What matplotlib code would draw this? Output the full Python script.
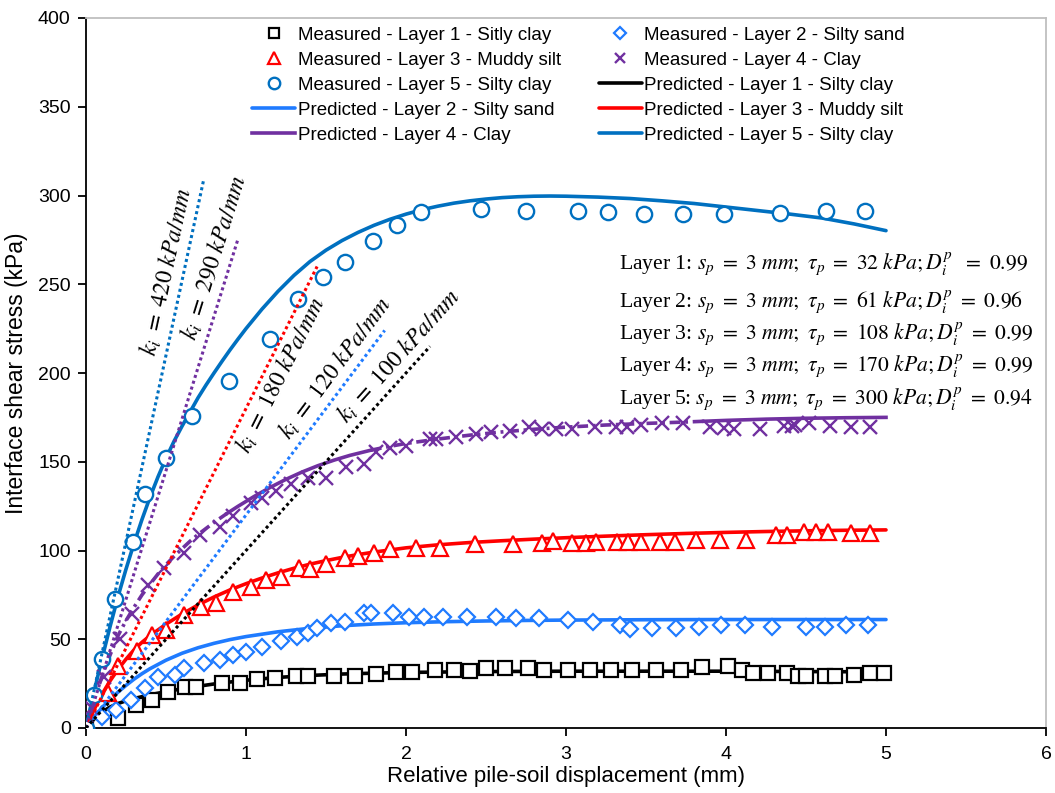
import numpy as np
import matplotlib
matplotlib.use("Agg")
import matplotlib.pyplot as plt
from matplotlib.lines import Line2D
from matplotlib import transforms

plt.rcParams['font.family'] = ['Liberation Sans', 'DejaVu Sans']
plt.rcParams['mathtext.fontset'] = 'stix'

# ---------------- measured interface shear stress ----------------
m1_x = [0, 0.2, 0.31, 0.41, 0.51, 0.62, 0.69, 0.85, 0.96, 1.07, 1.18, 1.31, 1.39, 1.55, 1.68,
        1.81, 1.94, 2.04, 2.18, 2.30, 2.40, 2.50, 2.62, 2.76, 2.86, 3.01, 3.15, 3.28, 3.41,
        3.56, 3.72, 3.85, 4.01, 4.10, 4.17, 4.26, 4.38, 4.45, 4.50, 4.62, 4.68, 4.80, 4.90, 4.99]
m1_y = [0, 5.4, 13, 15.8, 20.1, 22.9, 22.9, 25.5, 25.5, 27.6, 27.9, 29.3, 29.3, 29.3, 29.3,
        30.4, 31.7, 31.7, 32.7, 32.7, 32.1, 34.0, 34.0, 34.0, 32.7, 32.7, 32.7, 32.7, 32.7,
        32.7, 32.7, 34.1, 34.9, 32.7, 30.8, 31.2, 31.2, 29.5, 29.5, 29.5, 29.5, 29.9, 31.2, 31.2]

m2_x = [0, 0.1, 0.19, 0.28, 0.37, 0.45, 0.556, 0.61, 0.74, 0.84, 0.92, 1.0, 1.10, 1.22, 1.32,
        1.39, 1.445, 1.53, 1.62, 1.74, 1.78, 1.92, 2.02, 2.11, 2.23, 2.38, 2.56, 2.69, 2.83,
        3.01, 3.17, 3.34, 3.40, 3.54, 3.69, 3.83, 3.97, 4.12, 4.29, 4.5, 4.62, 4.75, 4.89]
m2_y = [0, 6, 10, 16, 22.5, 29, 30, 33.6, 36.4, 38.3, 41.1, 43, 45.8, 49, 51.5,
        53.7, 56.1, 58.9, 59.9, 64.6, 64.6, 64.6, 62.7, 62.7, 62.7, 62.7, 62.7, 61.8, 61.8,
        60.8, 59.9, 58, 55.6, 56.1, 56.1, 57, 58, 58, 57, 57, 57, 58, 58]

m3_x = [0, 0.14, 0.2, 0.32, 0.41, 0.5, 0.61, 0.72, 0.81, 0.92, 1.03, 1.125, 1.22, 1.33, 1.40,
        1.50, 1.62, 1.70, 1.80, 1.90, 2.06, 2.21, 2.43, 2.67, 2.85, 2.92, 3.04, 3.125, 3.19,
        3.32, 3.39, 3.47, 3.59, 3.68, 3.81, 3.96, 4.125, 4.31, 4.38, 4.49, 4.56, 4.64, 4.78, 4.90]
m3_y = [0, 19.9, 34.9, 43.6, 52.4, 55.2, 63.7, 68.3, 70.6, 76.8, 79.6, 83.4, 84.9, 90, 89.4,
        92.4, 95.6, 96.9, 98.4, 100.6, 101.2, 101.2, 103.7, 103.7, 104, 105.5, 104.4, 104, 104.8,
        104.8, 104.8, 104.8, 104.8, 104.8, 105.9, 105.9, 105.9, 108.7, 108.7, 110.7, 110.7, 110.7,
        109.7, 109.7]

m4_x = [0, 0.04, 0.11, 0.21, 0.29, 0.39, 0.49, 0.61, 0.71, 0.84, 0.92, 1.03, 1.10, 1.19, 1.28,
        1.39, 1.50, 1.625, 1.74, 1.81, 1.90, 2.0, 2.15, 2.19, 2.31, 2.44, 2.53, 2.65, 2.77,
        2.85, 2.94, 3.04, 3.18, 3.31, 3.38, 3.47, 3.6, 3.73, 3.9, 3.99, 4.05, 4.21, 4.36,
        4.41, 4.43, 4.52, 4.65, 4.78, 4.9]
m4_y = [0, 11, 28.5, 50, 64, 80.6, 90, 98.4, 108.7, 113.4, 119.4, 126.6, 129.8, 133.5, 137.3,
        140.7, 140.7, 147.2, 148.6, 155.7, 158, 158.9, 163, 163, 164.2, 165.6, 166.8, 167.5, 169.4,
        168.6, 168.6, 168.6, 169.4, 169.4, 169.7, 170.8, 171.6, 171.6, 169.7, 169.2, 168.5, 168.5,
        170.1, 170.1, 170.5, 172, 170.1, 169.7, 169.7]

m5_x = [0, 0.05, 0.1, 0.18, 0.296, 0.367, 0.5, 0.665, 0.894, 1.148, 1.325, 1.483, 1.621, 1.796,
        1.946, 2.092, 2.471, 2.75, 3.075, 3.26, 3.49, 3.73, 3.99, 4.34, 4.625, 4.87]
m5_y = [0, 18.6, 38.9, 72.7, 105, 131.8, 152, 175.6, 195.4, 219, 241.7, 254.3, 262.7, 274.2,
        283.2, 290.7, 292.2, 291.3, 291.1, 290.7, 289.6, 289.6, 289.6, 290, 291.1, 291.1]

# ---------------- predicted curves ----------------
p1_x = [0, 0.025, 0.05, 0.075, 0.1, 0.15, 0.2, 0.25, 0.3, 0.4, 0.5, 0.6, 0.7, 0.8, 0.9, 1.0,
        1.2, 1.4, 1.6, 1.8, 2.0, 2.5, 3.0, 3.5, 4.0, 4.5, 5.0]
p1_y = [0, 2.5, 5, 7.1, 9, 11.8, 13.8, 15.3, 16.6, 18.7, 20.5, 22.1, 23.5, 24.8, 25.9, 26.9,
        28.5, 29.6, 30.4, 30.9, 31.3, 31.8, 32, 32, 32, 31.8, 31.6]

p2_x = [0, 0.025, 0.05, 0.075, 0.1, 0.15, 0.2, 0.25, 0.3, 0.35, 0.4, 0.5, 0.6, 0.7, 0.8, 0.9,
        1.0, 1.2, 1.4, 1.6, 1.8, 2.0, 2.25, 2.5, 2.75, 3.0, 3.5, 4.0, 4.5, 5.0]
p2_y = [0, 3, 6, 8.8, 11.5, 16, 20.2, 24, 27.5, 30.6, 33.4, 38.2, 42.1, 45.2, 47.7, 49.8,
        51.5, 54.2, 56.2, 57.6, 58.6, 59.3, 59.9, 60.3, 60.6, 60.8, 61, 61.1, 61.1, 61.1]

p3_x = [0, 0.025, 0.05, 0.075, 0.1, 0.15, 0.2, 0.25, 0.3, 0.35, 0.4, 0.5, 0.6, 0.7, 0.8, 0.9,
        1.0, 1.1, 1.2, 1.3, 1.4, 1.5, 1.6, 1.7, 1.8, 2.0, 2.2, 2.4, 2.6, 2.8, 3.0, 3.25, 3.5,
        3.75, 4.0, 4.25, 4.5, 4.75, 5.0]
p3_y = [0, 5.2, 10.2, 14.8, 19, 26.5, 33, 38.8, 44, 48.3, 52, 58.5, 64.2, 69.3, 73.8, 77.8,
        81.3, 84.5, 87.4, 90, 92.3, 94.3, 96.1, 97.7, 99.1, 101.5, 103.2, 104.5, 105.5, 106.4,
        107.2, 108.1, 108.9, 109.6, 110.2, 110.7, 111.1, 111.4, 111.6]

p4_x = [0, 0.025, 0.05, 0.075, 0.1, 0.15, 0.2, 0.25, 0.3, 0.35, 0.4, 0.45, 0.5, 0.55, 0.6,
        0.65, 0.7, 0.8, 0.88, 0.95, 1.05, 1.15, 1.25, 1.35, 1.45, 1.55, 1.65, 1.78, 1.9, 2.0,
        2.2, 2.4, 2.6, 2.8, 3.0, 3.25, 3.5, 3.75, 3.86, 4.0, 4.25, 4.5, 4.75, 5.0]
p4_y = [0, 7.6, 15, 22.2, 29, 41, 52, 60.5, 68, 75, 81, 86.8, 92, 96.7, 101,
        105.2, 109, 115.8, 120.8, 124.9, 130.4, 135.5, 140.1, 144.2, 147.8, 150.9, 153.6, 156.5,
        158.7, 160.3, 162.8, 165, 166.8, 168.3, 169.5, 170.7, 171.6, 172.4, 172.8, 173.3, 174,
        174.5, 174.8, 175]

p5_x = [0, 0.025, 0.05, 0.075, 0.1, 0.125, 0.15, 0.2, 0.25, 0.3, 0.35, 0.4, 0.45, 0.5, 0.55,
        0.6, 0.65, 0.7, 0.75, 0.8, 0.85, 0.9, 0.95, 1.0, 1.1, 1.2, 1.3, 1.4, 1.5, 1.6, 1.7, 1.8,
        1.9, 2.0, 2.1, 2.2, 2.3, 2.4, 2.5, 2.6, 2.7, 2.8, 2.9, 3.0, 3.2, 3.4, 3.6, 3.8, 4.0,
        4.2, 4.4, 4.6, 4.8, 5.0]
p5_y = [0, 10.2, 20, 29.7, 39, 48, 57, 74, 89.5, 104, 117.5, 130, 141.5, 152, 161.5,
        170, 178, 186, 193.2, 200, 206.6, 213, 219.1, 225, 236, 246, 255, 262.8, 269.2, 274.6,
        279.2, 283.2, 286.6, 289.5, 292, 294, 295.7, 297, 298, 298.8, 299.3, 299.6, 299.7,
        299.6, 299.1, 298.3, 297, 295.5, 293.5, 291.5, 289.5, 287.3, 284, 280.2]

# initial stiffness k_i (kPa/mm) of the tangent lines and their upper stress extent (kPa)
k_values = [420, 290, 180, 120, 100]
tangent_top = [309, 276, 260, 224, 215]
tangent_label_y = [255, 262, 203, 197, 203]
tangent_label_side = [1, 1, -1, 1, 1]

layer_params = [
    ("1", "32", "0.99"),
    ("2", "61", "0.96"),
    ("3", "108", "0.99"),
    ("4", "170", "0.99"),
    ("5", "300", "0.94"),
]

C1, C2, C3, C4, C5 = "black", "#1F7BFF", "#FF0000", "#7030A0", "#0070C0"
tangent_colors = [C5, C4, C3, C2, C1]

fig = plt.figure(figsize=(10.55, 7.93), dpi=100)
ax = fig.add_axes([86 / 1055, 65 / 793, 960 / 1055, 710 / 793])
ax.set_xlim(0, 6)
ax.set_ylim(0, 400)

LW = 2.6
# predicted curves
p1_line, = ax.plot(p1_x, p1_y, color=C1, lw=LW, zorder=3, solid_capstyle='round')
p2_line, = ax.plot(p2_x, p2_y, color=C2, lw=LW, zorder=3, solid_capstyle='round')
p3_line, = ax.plot(p3_x, p3_y, color=C3, lw=LW, zorder=3, solid_capstyle='round')
p5_line, = ax.plot(p5_x, p5_y, color=C5, lw=LW, zorder=3, solid_capstyle='round')

# layer 4 curve: solid and dash-dot stretches
p4x = np.array(p4_x)
p4y = np.array(p4_y)
dashdot = (0, (3.0, 1.3, 0.8, 1.3))
segments = [((0.0, 0.88), dashdot), ((0.88, 1.78), '-'), ((1.78, 3.86), dashdot), ((3.86, 5.0), '-')]
for (lo, hi), style in segments:
    sel = (p4x >= lo) & (p4x <= hi)
    ax.plot(p4x[sel], p4y[sel], color=C4, lw=LW, ls=style, zorder=3)
p4_line = Line2D([], [], color=C4, lw=LW)

# measured points
mk = dict(ls='none', zorder=4)
m1_pts, = ax.plot(m1_x, m1_y, marker='s', ms=10, mfc='white', mec=C1, mew=1.6, **mk)
m2_pts, = ax.plot(m2_x, m2_y, marker='D', ms=8.5, mfc='white', mec=C2, mew=1.6, **mk)
m3_pts, = ax.plot(m3_x, m3_y, marker='^', ms=11, mfc='white', mec=C3, mew=1.6, **mk)
m4_pts, = ax.plot(m4_x, m4_y, marker='x', ms=9.5, mec=C4, mew=1.7, **mk)
m5_pts, = ax.plot(m5_x, m5_y, marker='o', ms=11, mfc='white', mec=C5, mew=1.7, **mk)

# initial stiffness tangents with labels
fig.canvas.draw()
for k, top, ly, side, col in zip(k_values, tangent_top, tangent_label_y,
                                 tangent_label_side, tangent_colors):
    ax.plot([0, top / k], [0, top], ls=(0, (1.0, 1.0)), color=col, lw=2.2, zorder=5)
    p0 = ax.transData.transform((0, 0))
    p1 = ax.transData.transform((1, k))
    ang = np.arctan2(p1[1] - p0[1], p1[0] - p0[0])
    d = 4 * side
    tr = transforms.offset_copy(ax.transData, fig=fig, x=-np.sin(ang) * d, y=np.cos(ang) * d,
                                units='dots')
    ax.text(ly / k, ly, r"$k_i\ =\ %d\ kPa/mm$" % k, transform=tr, rotation=np.degrees(ang),
            rotation_mode='anchor', ha='center', va='bottom' if side > 0 else 'top',
            fontsize=17, zorder=6)

# model parameters
param_y = [261, 240, 222, 204, 185]
for (lay, tau, d), yy in zip(layer_params, param_y):
    sep = r"\ \ " if lay == "1" else r"\ "
    s = (r"Layer %s: $s_p\ =\ 3\ mm;\ \tau_p\ =\ %s\ kPa; D_i^p%s=\ %s$"
         % (lay, tau, sep, d))
    ax.text(3.33, yy, s, ha='left', va='center', fontsize=15.6, zorder=6,
            family=['Liberation Serif', 'DejaVu Serif'])

# axes styling
for side in ('left', 'bottom'):
    ax.spines[side].set_color('black')
    ax.spines[side].set_linewidth(1.3)
for side in ('top', 'right'):
    ax.spines[side].set_color('#BFBFBF')
    ax.spines[side].set_linewidth(1.3)
ax.set_xticks(range(0, 7))
ax.set_yticks(range(0, 401, 50))
ax.tick_params(direction='out', length=6, width=1.3, labelsize=14, pad=5, colors='black')
ax.tick_params(axis='x', pad=7)
ax.set_xlabel("Relative pile-soil displacement (mm)", fontsize=16, labelpad=2)
ax.set_ylabel("Interface shear stress (kPa)", fontsize=16.5, labelpad=7)

handles = [m1_pts, m3_pts, m5_pts, p2_line, p4_line,
           m2_pts, m4_pts, p1_line, p3_line, p5_line]
labels = ["Measured - Layer 1 - Sitly clay", "Measured - Layer 3 - Muddy silt",
          "Measured - Layer 5 - Silty clay", "Predicted - Layer 2 - Silty sand",
          "Predicted - Layer 4 - Clay",
          "Measured - Layer 2 - Silty sand", "Measured - Layer 4 - Clay",
          "Predicted - Layer 1 - Silty clay", "Predicted - Layer 3 - Muddy silt",
          "Predicted - Layer 5 - Silty clay"]
ax.legend(handles, labels, ncol=2, loc='upper left', bbox_to_anchor=((252 - 86) / 960, 0.988),
          frameon=False, fontsize=13.5, handlelength=2.3, handletextpad=0.15,
          columnspacing=2.0, labelspacing=0.42, borderpad=0, borderaxespad=0, numpoints=1,
          markerscale=0.75)

fig.savefig("out.png", dpi=100)
